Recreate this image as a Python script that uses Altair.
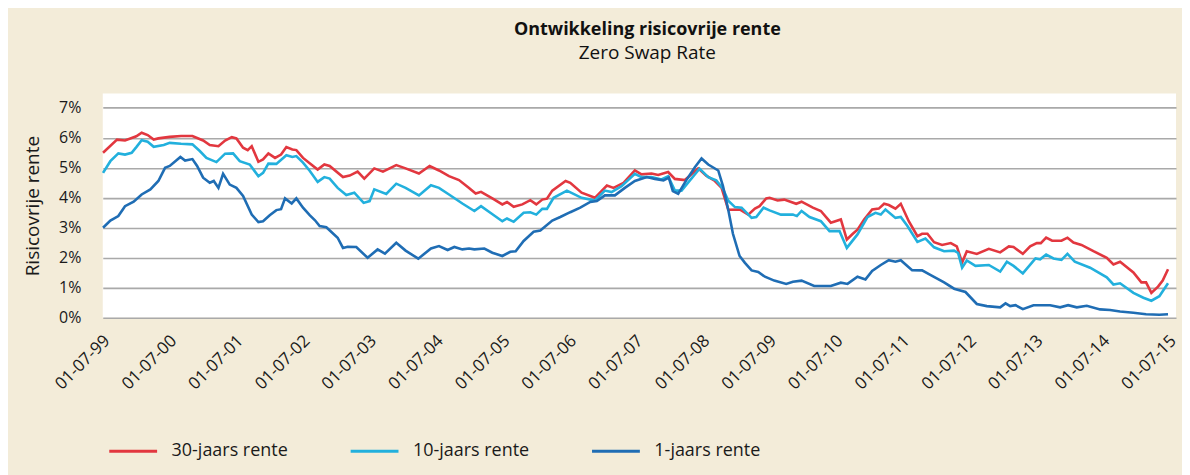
import altair as alt
import pandas as pd

# ---- data (decimal year, percent) ----
t30 = [1999.50, 1999.71, 1999.83, 2000.00, 2000.08, 2000.17, 2000.26, 2000.33, 2000.50, 2000.67,
       2000.84, 2001.00, 2001.10, 2001.23, 2001.33, 2001.43, 2001.50, 2001.60, 2001.67, 2001.73,
       2001.83, 2001.90, 2001.98, 2002.08, 2002.17, 2002.25, 2002.34, 2002.40, 2002.50, 2002.60,
       2002.72, 2002.82, 2002.90, 2003.10, 2003.20, 2003.32, 2003.42, 2003.57, 2003.70, 2003.90,
       2004.04, 2004.24, 2004.40, 2004.54, 2004.69, 2004.84, 2004.99, 2005.09, 2005.17, 2005.34,
       2005.49, 2005.56, 2005.66, 2005.79, 2005.91, 2006.00, 2006.09, 2006.16, 2006.24, 2006.44,
       2006.51, 2006.68, 2006.88, 2007.06, 2007.16, 2007.31, 2007.48, 2007.58, 2007.73, 2007.83,
       2007.98, 2008.08, 2008.23, 2008.43, 2008.55, 2008.68, 2008.78, 2008.88, 2009.05, 2009.18,
       2009.28, 2009.35, 2009.45, 2009.50, 2009.62, 2009.72, 2009.90, 2009.98, 2010.15, 2010.27,
       2010.42, 2010.57, 2010.66, 2010.75, 2010.82, 2010.92, 2011.04, 2011.14, 2011.22, 2011.29,
       2011.39, 2011.47, 2011.59, 2011.72, 2011.79, 2011.87, 2011.97, 2012.09, 2012.22, 2012.31,
       2012.39, 2012.46, 2012.61, 2012.79, 2012.96, 2013.09, 2013.16, 2013.30, 2013.41, 2013.51,
       2013.57, 2013.65, 2013.74, 2013.88, 2013.97, 2014.06, 2014.18, 2014.36, 2014.56, 2014.66,
       2014.76, 2014.96, 2015.08, 2015.15, 2015.23, 2015.33, 2015.40, 2015.48]
r30 = [5.50, 5.94, 5.91, 6.05, 6.17, 6.09, 5.94, 5.98, 6.03, 6.06,
       6.06, 5.91, 5.76, 5.72, 5.91, 6.02, 5.98, 5.67, 5.59, 5.72,
       5.20, 5.28, 5.48, 5.33, 5.44, 5.69, 5.61, 5.59, 5.33, 5.15,
       4.94, 5.11, 5.06, 4.69, 4.74, 4.87, 4.64, 4.98, 4.87, 5.09,
       4.98, 4.81, 5.06, 4.91, 4.72, 4.59, 4.33, 4.14, 4.20, 3.98,
       3.78, 3.86, 3.70, 3.78, 3.92, 3.78, 3.94, 3.97, 4.24, 4.56,
       4.50, 4.17, 4.00, 4.41, 4.33, 4.50, 4.91, 4.78, 4.81, 4.76,
       4.86, 4.63, 4.59, 4.98, 4.74, 4.56, 4.33, 3.60, 3.61, 3.44,
       3.64, 3.72, 3.98, 4.00, 3.91, 3.94, 3.80, 3.87, 3.67, 3.56,
       3.17, 3.28, 2.61, 2.80, 2.94, 3.28, 3.61, 3.64, 3.80, 3.76,
       3.64, 3.80, 3.22, 2.72, 2.80, 2.80, 2.52, 2.43, 2.49, 2.38,
       1.84, 2.22, 2.13, 2.30, 2.18, 2.38, 2.36, 2.13, 2.38, 2.49,
       2.49, 2.67, 2.57, 2.57, 2.67, 2.51, 2.43, 2.22, 2.00, 1.78,
       1.87, 1.51, 1.18, 1.18, 0.83, 1.04, 1.24, 1.62]

t10 = [1999.50, 1999.61, 1999.73, 1999.83, 1999.93, 2000.00, 2000.08, 2000.17, 2000.26, 2000.41,
       2000.50, 2000.67, 2000.84, 2000.95, 2001.05, 2001.20, 2001.33, 2001.45, 2001.55, 2001.70,
       2001.83, 2001.90, 2001.98, 2002.10, 2002.25, 2002.34, 2002.40, 2002.50, 2002.60, 2002.72,
       2002.82, 2002.90, 2003.02, 2003.15, 2003.27, 2003.41, 2003.50, 2003.57, 2003.75, 2003.90,
       2004.04, 2004.24, 2004.42, 2004.54, 2004.69, 2004.89, 2005.07, 2005.17, 2005.31, 2005.49,
       2005.56, 2005.66, 2005.81, 2005.91, 2006.00, 2006.09, 2006.16, 2006.26, 2006.46, 2006.68,
       2006.88, 2007.03, 2007.13, 2007.28, 2007.48, 2007.58, 2007.73, 2007.88, 2007.98, 2008.08,
       2008.18, 2008.45, 2008.58, 2008.70, 2008.80, 2008.88, 2008.98, 2009.08, 2009.23, 2009.30,
       2009.41, 2009.50, 2009.67, 2009.85, 2009.91, 2009.98, 2010.10, 2010.27, 2010.40, 2010.55,
       2010.66, 2010.82, 2010.97, 2011.09, 2011.17, 2011.24, 2011.39, 2011.47, 2011.57, 2011.72,
       2011.84, 2011.97, 2012.12, 2012.27, 2012.33, 2012.39, 2012.46, 2012.59, 2012.79, 2012.96,
       2013.06, 2013.16, 2013.30, 2013.49, 2013.56, 2013.65, 2013.76, 2013.88, 2013.97, 2014.08,
       2014.31, 2014.56, 2014.66, 2014.76, 2014.96, 2015.11, 2015.23, 2015.35, 2015.48]
r10 = [4.83, 5.22, 5.48, 5.44, 5.50, 5.69, 5.92, 5.87, 5.70, 5.76,
       5.83, 5.80, 5.78, 5.56, 5.33, 5.19, 5.47, 5.48, 5.22, 5.11,
       4.72, 4.83, 5.14, 5.13, 5.42, 5.36, 5.39, 5.17, 4.90, 4.53,
       4.69, 4.64, 4.33, 4.09, 4.17, 3.83, 3.89, 4.28, 4.13, 4.47,
       4.33, 4.08, 4.42, 4.33, 4.11, 3.81, 3.56, 3.72, 3.50, 3.22,
       3.31, 3.20, 3.50, 3.52, 3.44, 3.63, 3.63, 4.00, 4.24, 4.00,
       3.91, 4.24, 4.19, 4.39, 4.80, 4.69, 4.69, 4.61, 4.72, 4.24,
       4.24, 4.97, 4.69, 4.58, 4.30, 3.90, 3.69, 3.67, 3.33, 3.36,
       3.67, 3.58, 3.44, 3.44, 3.39, 3.56, 3.36, 3.22, 2.89, 2.89,
       2.33, 2.78, 3.36, 3.50, 3.44, 3.61, 3.33, 3.36, 3.06, 2.53,
       2.64, 2.35, 2.22, 2.24, 2.16, 1.67, 1.91, 1.73, 1.76, 1.54,
       1.87, 1.73, 1.48, 1.98, 1.95, 2.11, 1.98, 1.93, 2.13, 1.87,
       1.67, 1.35, 1.11, 1.15, 0.83, 0.67, 0.57, 0.72, 1.15]

t1 = [1999.50, 1999.61, 1999.73, 1999.83, 1999.96, 2000.08, 2000.21, 2000.33, 2000.43, 2000.50,
      2000.66, 2000.73, 2000.84, 2000.91, 2001.00, 2001.10, 2001.16, 2001.23, 2001.30, 2001.40,
      2001.50, 2001.60, 2001.73, 2001.83, 2001.90, 2002.00, 2002.10, 2002.17, 2002.23, 2002.33,
      2002.40, 2002.50, 2002.60, 2002.68, 2002.75, 2002.85, 2003.02, 2003.10, 2003.17, 2003.30,
      2003.47, 2003.62, 2003.73, 2003.90, 2004.04, 2004.23, 2004.42, 2004.54, 2004.67, 2004.77,
      2004.89, 2004.99, 2005.07, 2005.22, 2005.34, 2005.49, 2005.61, 2005.69, 2005.81, 2005.96,
      2006.06, 2006.24, 2006.36, 2006.51, 2006.66, 2006.81, 2006.91, 2007.03, 2007.18, 2007.33,
      2007.48, 2007.66, 2007.78, 2007.91, 2007.99, 2008.05, 2008.13, 2008.25, 2008.38, 2008.48,
      2008.58, 2008.73, 2008.80, 2008.88, 2008.95, 2009.05, 2009.13, 2009.23, 2009.33, 2009.43,
      2009.57, 2009.75, 2009.85, 2009.98, 2010.17, 2010.42, 2010.57, 2010.67, 2010.82, 2010.94,
      2011.04, 2011.17, 2011.29, 2011.39, 2011.47, 2011.64, 2011.79, 2011.92, 2012.12, 2012.27,
      2012.44, 2012.61, 2012.76, 2012.96, 2013.04, 2013.11, 2013.19, 2013.30, 2013.46, 2013.71,
      2013.86, 2013.98, 2014.11, 2014.26, 2014.46, 2014.61, 2014.76, 2014.96, 2015.15, 2015.35,
      2015.48]
r1 = [3.00, 3.24, 3.39, 3.72, 3.87, 4.11, 4.28, 4.56, 5.00, 5.06,
      5.36, 5.24, 5.29, 5.06, 4.67, 4.50, 4.56, 4.33, 4.80, 4.44,
      4.33, 4.06, 3.44, 3.19, 3.22, 3.42, 3.59, 3.62, 3.98, 3.81,
      3.98, 3.67, 3.42, 3.25, 3.06, 3.02, 2.67, 2.33, 2.37, 2.36,
      2.00, 2.28, 2.14, 2.50, 2.24, 1.97, 2.31, 2.39, 2.26, 2.36,
      2.28, 2.31, 2.28, 2.31, 2.17, 2.06, 2.20, 2.22, 2.56, 2.87,
      2.91, 3.24, 3.36, 3.52, 3.67, 3.86, 3.89, 4.08, 4.08, 4.33,
      4.56, 4.69, 4.63, 4.58, 4.67, 4.22, 4.13, 4.58, 5.02, 5.31,
      5.11, 4.91, 4.40, 3.60, 2.80, 2.06, 1.83, 1.58, 1.53, 1.37,
      1.24, 1.13, 1.20, 1.24, 1.06, 1.06, 1.17, 1.13, 1.37, 1.28,
      1.56, 1.76, 1.92, 1.87, 1.92, 1.59, 1.58, 1.42, 1.18, 0.97,
      0.86, 0.46, 0.39, 0.35, 0.48, 0.39, 0.42, 0.29, 0.42, 0.42,
      0.35, 0.42, 0.35, 0.40, 0.28, 0.26, 0.21, 0.17, 0.12, 0.10,
      0.12]

series_names = ["30-jaars rente", "10-jaars rente", "1-jaars rente"]
series_colors = ["#e2373f", "#22b0dd", "#1f6db4"]
tick_years = list(range(1999, 2016))


def to_ts(t):
    y = int(t)
    start = pd.Timestamp(year=y, month=1, day=1)
    end = pd.Timestamp(year=y + 1, month=1, day=1)
    return start + (end - start) * (t - y)


rows = []
for name, ts, vs in zip(series_names, [t30, t10, t1], [r30, r10, r1]):
    for t, v in zip(ts, vs):
        rows.append({"datum": to_ts(t).strftime("%Y-%m-%dT%H:%M:%S"), "rente": v, "reeks": name})
df = pd.DataFrame(rows)

FONT = "Open Sans"
BG = "#f3ecd9"
TXT = "#1a1a1a"

chart = alt.Chart(df).mark_line(strokeWidth=2.6, interpolate="linear").encode(
    x=alt.X("datum:T",
            scale=alt.Scale(domain=[alt.DateTime(year=1999, month=7, date=1),
                                    alt.DateTime(year=2015, month=8, date=8)], nice=False),
            axis=alt.Axis(values=[alt.DateTime(year=y, month=7, date=1) for y in tick_years],
                          format="%d-%m-%y", labelAngle=-45, labelAlign="right",
                          labelBaseline="middle", labelOffset=4, labelPadding=20,
                          labelFontSize=17, labelFont=FONT, labelColor=TXT,
                          domain=False, ticks=False, grid=False, title=None,
                          labelOverlap=False, labelBound=False)),
    y=alt.Y("rente:Q",
            scale=alt.Scale(domain=[0, 7.48], nice=False, zero=True),
            axis=alt.Axis(values=list(range(0, 8)), labelExpr="datum.value + '%'",
                          labelFontSize=16, labelFont=FONT, labelColor=TXT,
                          labelPadding=22, domain=False, ticks=False,
                          grid=True, gridColor="#a9a9a9", gridWidth=1.6,
                          title="Risicovrije rente", titleFontSize=19, titleFont=FONT,
                          titleFontWeight="normal", titleColor=TXT, titlePadding=16)),
    color=alt.Color("reeks:N",
                    scale=alt.Scale(domain=series_names, range=series_colors),
                    legend=alt.Legend(orient="none", legendX=5, legendY=333,
                                      direction="horizontal", columns=3, title=None,
                                      symbolType="stroke", symbolSize=2300,
                                      symbolStrokeWidth=3, labelFontSize=18,
                                      labelFont=FONT, labelColor=TXT,
                                      labelOffset=13, gridAlign="all",
                                      columnPadding=56, labelLimit=300)),
    order=alt.Order("datum:T"),
).properties(
    width=1076,
    height=225,
    title=alt.TitleParams(text="Ontwikkeling risicovrije rente", subtitle="Zero Swap Rate",
                          font=FONT, fontSize=18, fontWeight="bold", color="#111111",
                          subtitleFont=FONT, subtitleFontSize=19, subtitleColor="#111111",
                          subtitlePadding=6, anchor="middle", offset=30, dx=8),
    autosize=alt.AutoSizeParams(type="none"),
    padding={"left": 95, "top": 85, "right": 6, "bottom": 160},
    background=BG,
).configure_view(fill="white", stroke=None)

chart.save("out.html", embed_options={"renderer": "svg", "actions": False})
